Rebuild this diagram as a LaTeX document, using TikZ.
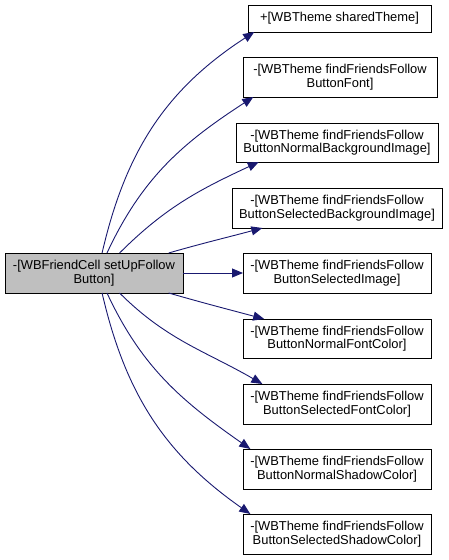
\documentclass[tikz,border=0pt]{standalone}
\usepackage{fontspec}
\setmainfont{Liberation Sans}
\usetikzlibrary{arrows.meta}
\definecolor{edgeblue}{HTML}{191970}
\definecolor{srcfill}{HTML}{BFBFBF}
\tikzset{
  box/.style={draw=black, line width=0.9pt, fill=white, inner sep=0pt, outer sep=0pt,
    align=center, minimum height=40pt, font=\fontsize{12.9}{13.4}\selectfont},
  srcbox/.style={box, fill=srcfill},
  edge/.style={draw=edgeblue, line width=0.9pt, -{Triangle[length=11pt,width=9pt]}}
}
\begin{document}
\begin{tikzpicture}[x=1pt,y=1pt]
\useasboundingbox (0,0) rectangle (448,-560);
\node[srcbox, minimum width=178pt] (src) at (94,-273) {-[WBFriendCell setUpFollow\\Button]};
\node[box, minimum width=183pt, minimum height=27pt] (t1) at (339.5,-18.5) {+[WBTheme sharedTheme]};
\node[box, minimum width=194pt] (t2) at (340,-77) {-[WBTheme findFriendsFollow\\ButtonFont]};
\node[box, minimum width=202pt, minimum height=39pt] (t3) at (337,-142.5) {-[WBTheme findFriendsFollow\\ButtonNormalBackgroundImage]};
\node[box, minimum width=210pt] (t4) at (337,-208) {-[WBTheme findFriendsFollow\\ButtonSelectedBackgroundImage]};
\node[box, minimum width=188pt] (t5) at (337,-273) {-[WBTheme findFriendsFollow\\ButtonSelectedImage]};
\node[box, minimum width=188pt, minimum height=39pt] (t6) at (337,-338.5) {-[WBTheme findFriendsFollow\\ButtonNormalFontColor]};
\node[box, minimum width=188pt] (t7) at (337,-404) {-[WBTheme findFriendsFollow\\ButtonSelectedFontColor]};
\node[box, minimum width=188pt] (t8) at (337,-469) {-[WBTheme findFriendsFollow\\ButtonNormalShadowColor]};
\node[box, minimum width=188pt] (t9) at (337,-534) {-[WBTheme findFriendsFollow\\ButtonSelectedShadowColor]};
\draw[edge] (src.68) to[out=77,in=213] (t1.189);
\draw[edge] (src.57) to[out=65,in=213] (t2.193);
\draw[edge] (src.38) to[out=45,in=205] (t3.194);
\draw[edge] (src.15) to[out=16,in=195] (t4.195);
\draw[edge] (src.east) -- (t5.west);
\draw[edge] (src.-15) to[out=-16,in=165] (t6.165);
\draw[edge] (src.-38) to[out=-45,in=150] (t7.165);
\draw[edge] (src.-57) to[out=-65,in=145] (t8.167);
\draw[edge] (src.-68) to[out=-77,in=145] (t9.167);
\end{tikzpicture}
\end{document}
